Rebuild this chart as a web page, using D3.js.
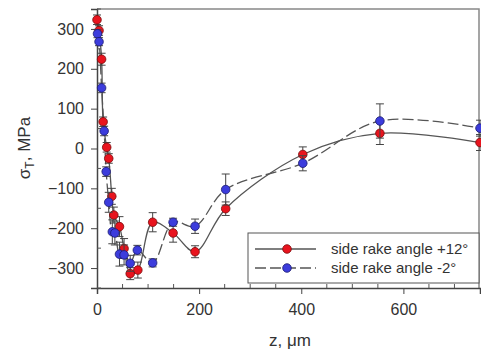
<!DOCTYPE html>
<html>
<head>
<meta charset="utf-8">
<script src="https://cdn.jsdelivr.net/npm/d3@7"></script>
<style>
    body { margin: 0; background: #fff; }
    svg { font-family: "Liberation Sans", Arial, sans-serif; }
</style>
</head>
<body>
<div id="chart"></div>
<script>
// measured residual stress vs depth, two rake angles
let zRed = [0, 4, 9, 12, 19, 23, 29, 33, 44, 53, 65, 80, 109, 149, 192, 252, 403, 554, 750];
let sRed = [323, 296, 224, 67, 3, -25, -120, -167, -196, -251, -314, -305, -185, -212, -259, -151, -15, 38, 15];
let eRed = [12, 12, 15, 12, 12, 12, 20, 20, 25, 25, 15, 20, 24, 23, 15, 17, 19, 28, 20];

let zBlue = [1, 4, 9, 14, 18, 23, 30, 35, 44, 53, 65, 79, 109, 149, 192, 252, 403, 554, 750];
let sBlue = [288, 268, 152, 44, -58, -135, -209, -212, -265, -267, -288, -255, -287, -185, -195, -103, -37, 69, 51];
let eBlue = [10, 10, 12, 12, 12, 25, 30, 30, 30, 25, 20, 12, 10, 10, 18, 39, 19, 43, 20];

let xTicks = [0, 200, 400, 600];
let yTicks = [-300, -200, -100, 0, 100, 200, 300];
let legendLabels = ["side rake angle +12°", "side rake angle -2°"];

let width = 481, height = 358;

let x = d3.scaleLinear().domain([0, 750]).range([97, 480]);
let y = d3.scaleLinear().domain([-350, 350]).range([288, 9]);

let svg = d3.select("#chart").append("svg")
    .attr("width", width)
    .attr("height", height);

svg.append("defs").append("clipPath").attr("id", "clip")
    .append("rect").attr("x", 90).attr("y", 0).attr("width", 400).attr("height", 292);

// 顶部和右侧的框线
svg.append("path")
    .attr("d", "M" + x(0) + "," + y(350) + "H" + 479 + "V" + y(-350))
    .attr("fill", "none").attr("stroke", "#888").attr("stroke-width", 1.5);

// 坐标轴
let xAxis = d3.axisBottom(x).tickValues(xTicks).tickSize(6).tickPadding(10).tickFormat(d3.format("d"));
let yAxis = d3.axisLeft(y).tickValues(yTicks).tickSize(6).tickPadding(7).tickFormat(d3.format("d"));

let gx = svg.append("g").attr("transform", "translate(0," + y(-350) + ")").call(xAxis);
let gy = svg.append("g").attr("transform", "translate(" + x(0) + ",0)").call(yAxis);

[gx, gy].forEach(function (g) {
    g.select(".domain").attr("stroke", "#444").attr("stroke-width", 1.5);
    g.selectAll(".tick line").attr("stroke", "#444");
    g.selectAll(".tick text").attr("fill", "#333").style("font-size", "16px");
});

// 次刻度（朝内）
let minorY = d3.range(-350, 351, 50).filter(function (v) { return yTicks.indexOf(v) < 0; });
svg.append("g").selectAll("line").data(minorY).enter().append("line")
    .attr("x1", x(0)).attr("x2", x(0) + 4)
    .attr("y1", function (d) { return y(d); }).attr("y2", function (d) { return y(d); })
    .attr("stroke", "#555");
let minorX = d3.range(50, 750, 50).filter(function (v) { return xTicks.indexOf(v) < 0; });
svg.append("g").selectAll("line").data(minorX).enter().append("line")
    .attr("x1", function (d) { return x(d); }).attr("x2", function (d) { return x(d); })
    .attr("y1", y(-350)).attr("y2", y(-350) - 4)
    .attr("stroke", "#555");

// 轴标题
svg.append("text")
    .attr("x", 290).attr("y", 346)
    .attr("text-anchor", "middle")
    .attr("fill", "#333").style("font-size", "17px")
    .text("z, μm");

let yt = svg.append("text")
    .attr("transform", "translate(30,148) rotate(-90)")
    .attr("text-anchor", "middle")
    .attr("fill", "#333").style("font-size", "17px");
yt.append("tspan").text("σ");
yt.append("tspan").attr("dy", 4).style("font-size", "12px").text("T");
yt.append("tspan").attr("dy", -4).text(", MPa");

// 组装两个系列
let makeSeries = function (zs, ss, es) {
    return zs.map(function (z, i) { return { z: z, s: ss[i], e: es[i] }; });
};
let series = [
    { data: makeSeries(zRed, sRed, eRed), fill: "#e8141e", stroke: "#7a0a0a", dash: null },
    { data: makeSeries(zBlue, sBlue, eBlue), fill: "#3c3cdc", stroke: "#1a1a70", dash: "11,4" }
];

let line = d3.line()
    .x(function (d) { return x(d.z); })
    .y(function (d) { return y(d.s); })
    .curve(d3.curveCatmullRom.alpha(0.5));

let plot = svg.append("g").attr("clip-path", "url(#clip)");

series.forEach(function (sr) {
    plot.append("path")
        .datum(sr.data)
        .attr("d", line)
        .attr("fill", "none")
        .attr("stroke", "#555")
        .attr("stroke-width", 1.3)
        .attr("stroke-dasharray", sr.dash);
});

series.forEach(function (sr) {
    let g = plot.append("g");
    // 误差线
    let eb = g.selectAll(".eb").data(sr.data).enter().append("g");
    eb.append("line")
        .attr("x1", function (d) { return x(d.z); }).attr("x2", function (d) { return x(d.z); })
        .attr("y1", function (d) { return y(d.s + d.e); }).attr("y2", function (d) { return y(d.s - d.e); })
        .attr("stroke", "#444");
    [1, -1].forEach(function (sg) {
        eb.append("line")
            .attr("x1", function (d) { return x(d.z) - 4; }).attr("x2", function (d) { return x(d.z) + 4; })
            .attr("y1", function (d) { return y(d.s + sg * d.e); }).attr("y2", function (d) { return y(d.s + sg * d.e); })
            .attr("stroke", "#444");
    });
    g.selectAll("circle").data(sr.data).enter().append("circle")
        .attr("cx", function (d) { return x(d.z); })
        .attr("cy", function (d) { return y(d.s); })
        .attr("r", 4.3)
        .attr("fill", sr.fill)
        .attr("stroke", sr.stroke)
        .attr("stroke-width", 0.8);
});

// 图例
let lg = svg.append("g");
lg.append("rect")
    .attr("x", 248).attr("y", 233).attr("width", 231).attr("height", 50)
    .attr("fill", "#fff").attr("stroke", "#555").attr("stroke-width", 1);
series.forEach(function (sr, i) {
    let ly = 249 + i * 19;
    lg.append("line")
        .attr("x1", 255).attr("x2", 316).attr("y1", ly).attr("y2", ly)
        .attr("stroke", "#555").attr("stroke-width", 1.3)
        .attr("stroke-dasharray", sr.dash);
    lg.append("circle")
        .attr("cx", 287).attr("cy", ly).attr("r", 4.3)
        .attr("fill", sr.fill).attr("stroke", sr.stroke).attr("stroke-width", 0.8);
    lg.append("text")
        .attr("x", 331).attr("y", ly + 5)
        .attr("fill", "#333").style("font-size", "15px")
        .text(legendLabels[i]);
});
</script>
</body>
</html>
